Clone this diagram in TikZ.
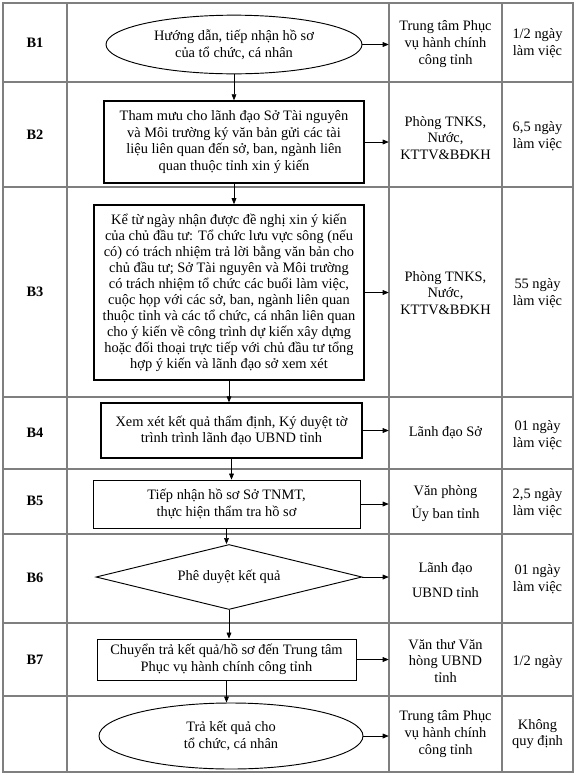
\documentclass[tikz,border=0pt]{standalone}
\usepackage{fontspec}
\setmainfont{Liberation Serif}
\usetikzlibrary{shapes.geometric,arrows.meta}
\definecolor{tgray}{HTML}{7F7F7F}

\begin{document}
\begin{tikzpicture}[x=0.75pt, y=-0.75pt,
  every node/.style={font=\fontsize{10.8}{12.5}\selectfont, align=center},
  box_/.style={rectangle, draw, inner sep=2pt, line width=0.6pt},
  oval_/.style={ellipse, draw, inner sep=0pt, line width=0.7pt},
  decide_/.style={diamond, draw, aspect=4, inner sep=0pt, line width=0.7pt},
  cell_/.style={inner sep=0pt, minimum width=84.75pt},
  stepno_/.style={font=\fontsize{10.8}{12.5}\selectfont\bfseries},
  arr/.style={-{Triangle[length=4.5pt,width=3.6pt]}, line width=0.5pt},
  grid_/.style={draw=tgray, line width=0.8pt}
]
\useasboundingbox (0,0) rectangle (576,775);

% table frame
\draw[grid_] (3,3) rectangle (573,772);
\foreach \x in {67,389,502} \draw[grid_] (\x,3) -- (\x,772);
\foreach \y in {82,187,397,469,534,623,696} \draw[grid_] (3,\y) -- (573,\y);

% step labels
\foreach \n/\y in {1/42.5,2/134.5,3/292,4/433,5/501,6/578,7/660}
  \node[stepno_] (s\n) at (35,\y) {B\n};

% flow shapes
\node[oval_, minimum width=192pt, minimum height=44pt] (e1) at (234,44.5)
  {Hướng dẫn, tiếp nhận hồ sơ\\của tổ chức, cá nhân};
\node[box_, line width=1.1pt, minimum width=195pt, minimum height=61.5pt] (b2) at (234,142)
  {Tham mưu cho lãnh đạo Sở Tài nguyên\\và Môi trường ký văn bản gửi các tài\\liệu liên quan đến sở, ban, ngành liên\\quan thuộc tỉnh xin ý kiến};
\node[box_, line width=1.2pt, minimum width=202.5pt, minimum height=131.25pt,
  font=\fontsize{10.8}{12}\selectfont] (b3) at (229,292.5)
  {Kể từ ngày nhận được đề nghị xin ý kiến\\của chủ đầu tư: Tổ chức lưu vực sông (nếu\\có) có trách nhiệm trả lời bằng văn bản cho\\chủ đầu tư; Sở Tài nguyên và Môi trường\\có trách nhiệm tổ chức các buổi làm việc,\\cuộc họp với các sở, ban, ngành liên quan\\thuộc tỉnh và các tổ chức, cá nhân liên quan\\cho ý kiến về công trình dự kiến xây dựng\\hoặc đối thoại trực tiếp với chủ đầu tư tổng\\hợp ý kiến và lãnh đạo sở xem xét};
\node[box_, line width=1pt, minimum width=195.75pt, minimum height=41.25pt] (b4) at (231.5,430.5)
  {Xem xét kết quả thẩm định, Ký duyệt tờ\\trình trình lãnh đạo UBND tỉnh};
\node[box_, minimum width=200.25pt, minimum height=36pt] (b5) at (226.5,504)
  {Tiếp nhận hồ sơ Sở TNMT,\\thực hiện thẩm tra hồ sơ};
\node[decide_, minimum width=199.5pt, minimum height=48.75pt] (d6) at (229,577)
  {Phê duyệt kết quả};
\node[box_, minimum width=194.25pt, minimum height=30.75pt] (b7) at (226.5,659.5)
  {Chuyển trả kết quả/hồ sơ đến Trung tâm\\Phục vụ hành chính công tỉnh};
\node[oval_, minimum width=198pt, minimum height=49.5pt] (e8) at (231,736)
  {Trả kết quả cho\\tổ chức, cá nhân};

% unit in charge
\node[cell_] (o1) at (445.5,44) {Trung tâm Phục\\vụ hành chính\\công tỉnh};
\node[cell_] (o2) at (445.5,138) {Phòng TNKS,\\Nước,\\KTTV\&BĐKH};
\node[cell_] (o3) at (445.5,293) {Phòng TNKS,\\Nước,\\KTTV\&BĐKH};
\node[cell_] (o4) at (445.5,433) {Lãnh đạo Sở};
\node[cell_] (o5) at (445.5,503.5) {Văn phòng\\[5pt]Ủy ban tỉnh};
\node[cell_] (o6) at (445.5,580) {Lãnh đạo\\[6pt]UBND tỉnh};
\node[cell_] (o7) at (445.5,661) {Văn thư Văn\\hòng UBND\\tỉnh};
\node[cell_] (o8) at (445.5,734) {Trung tâm Phục\\vụ hành chính\\công tỉnh};

% time
\node[cell_, minimum width=53pt] (t1) at (537.5,43.5) {1/2 ngày\\làm việc};
\node[cell_, minimum width=53pt] (t2) at (537.5,136.5) {6,5 ngày\\làm việc};
\node[cell_, minimum width=53pt] (t3) at (537.5,293.5) {55 ngày\\làm việc};
\node[cell_, minimum width=53pt] (t4) at (537.5,435) {01 ngày\\làm việc};
\node[cell_, minimum width=53pt] (t5) at (537.5,503.5) {2,5 ngày\\làm việc};
\node[cell_, minimum width=53pt] (t6) at (537.5,579.5) {01 ngày\\làm việc};
\node[cell_, minimum width=53pt] (t7) at (537.5,662) {1/2 ngày};
\node[cell_, minimum width=53pt] (t8) at (537.5,734) {Không\\quy định};

% arrows to unit column
\foreach \a/\b in {e1/o1,b2/o2,b3/o3,b4/o4,b5/o5,d6/o6,b7/o7,e8/o8}
  \draw[arr] (\a.east) -- (\a.east -| \b.west);

% arrows down the flow
\foreach \a/\b in {e1/b2,b2/b3,b3/b4,b4/b5,b5/d6,d6/b7,b7/e8}
  \draw[arr] (\a.south) -- (\a.south |- \b.north);
\end{tikzpicture}
\end{document}
